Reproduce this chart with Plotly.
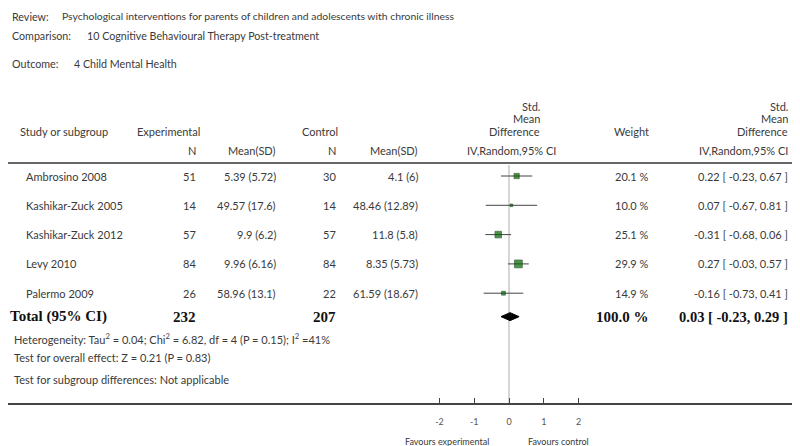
import plotly.graph_objects as go

# ---------------- data ----------------
studies = ["Ambrosino 2008", "Kashikar-Zuck 2005", "Kashikar-Zuck 2012", "Levy 2010", "Palermo 2009"]
exp_n = [51, 14, 57, 84, 26]
exp_mean = [5.39, 49.57, 9.9, 9.96, 58.96]
exp_sd = [5.72, 17.6, 6.2, 6.16, 13.1]
ctrl_n = [30, 14, 57, 84, 22]
ctrl_mean = [4.1, 48.46, 11.8, 8.35, 61.59]
ctrl_sd = [6, 12.89, 5.8, 5.73, 18.67]
smd = [0.22, 0.07, -0.31, 0.27, -0.16]
ci_lo = [-0.23, -0.67, -0.68, -0.03, -0.73]
ci_hi = [0.67, 0.81, 0.06, 0.57, 0.41]
weights = [20.1, 10.0, 25.1, 29.9, 14.9]

total_exp_n = 232
total_ctrl_n = 207
total_smd = 0.03
total_lo = -0.23
total_hi = 0.29
total_weight = 100.0

tick_vals = [-2, -1, 0, 1, 2]
tick_text = ["-2", "-1", "0", "1", "2"]

review = "Psychological interventions for parents of children and adolescents with chronic illness"
comparison = "10 Cognitive Behavioural Therapy Post-treatment"
outcome = "4 Child Mental Health"
heterogeneity = "Heterogeneity: Tau<sup>2</sup> = 0.04; Chi<sup>2</sup> = 6.82, df = 4 (P = 0.15); I<sup>2</sup> =41%"
overall = "Test for overall effect: Z = 0.21 (P = 0.83)"
subgroup = "Test for subgroup differences: Not applicable"

# ---------------- layout helpers ----------------
W, H = 800, 446
OFF = 8                    # page body margin: the figure starts 8px right and down
PLOT_BOTTOM = 403          # screen pixel y of the x-axis line
ROW0, ROWSTEP = 176, 29.3  # screen pixel y of first study row and row spacing
X0_PX, UNIT_PX = 509, 34.75
TOTAL_ROW = 4.8

def pxx(p):
    return (p - OFF) / W

def pxy(p):
    return (PLOT_BOTTOM - p) / (PLOT_BOTTOM - OFF)

SANS = "Lato"
SERIF = "Liberation Serif"
TXT = "#3a3a3a"

fig = go.Figure()

# CI lines
lx, ly = [], []
for i in range(len(studies)):
    lx += [ci_lo[i], ci_hi[i], None]
    ly += [i, i, None]
fig.add_trace(go.Scatter(x=lx, y=ly, mode="lines", line=dict(color="#444444", width=1),
                         hoverinfo="skip", showlegend=False))
# squares
fig.add_trace(go.Scatter(x=smd, y=list(range(len(studies))), mode="markers",
                         marker=dict(symbol="square", size=[w * 0.26 for w in weights],
                                     color="#006600", line=dict(color="#003300", width=0.8)),
                         showlegend=False))
# diamond
dh = 4 / ROWSTEP
fig.add_trace(go.Scatter(x=[total_lo, total_smd, total_hi, total_smd, total_lo],
                         y=[TOTAL_ROW, TOTAL_ROW - dh, TOTAL_ROW, TOTAL_ROW + dh, TOTAL_ROW],
                         mode="lines", fill="toself", fillcolor="#000000",
                         line=dict(color="#000000", width=1), showlegend=False))

ann = []

def A(text, x, y, anchor="left", size=11, font=SANS, color=TXT, yref="paper", bold=False,
      yanchor="middle"):
    if bold:
        text = "<b>" + text + "</b>"
    ann.append(dict(text=text, x=pxx(x), y=(pxy(y) if yref == "paper" else y), xref="paper",
                    yref=yref, xanchor=anchor, yanchor=yanchor, showarrow=False,
                    font=dict(family=font, size=size, color=color)))

# top texts (first line pinned to the top edge of the figure)
A("Review:", 10, OFF, size=10.7, yanchor="top")
A(review, 60, OFF, size=10.4, yanchor="top")
A("Comparison:", 10, 35, size=10.7)
A(comparison, 85, 35, size=10.7)
A("Outcome:", 10, 64, size=10.7)
A(outcome, 72, 64, size=10.7)

# column headers
A("Study or subgroup", 18, 131)
A("Experimental", 135, 131)
A("Control", 300, 131)
A("N", 198, 150, "right")
A("Mean(SD)", 278, 150, "right")
A("N", 338, 150, "right")
A("Mean(SD)", 420, 150, "right")
for xr in (542, 790):
    A("Std.", xr, 106, "right")
    A("Mean", xr, 118, "right")
    A("Difference", xr, 131, "right")
A("IV,Random,95% CI", 511, 150, "center")
A("IV,Random,95% CI", 790, 150, "right")
A("Weight", 651, 131, "right")

# study rows
for i, s in enumerate(studies):
    A(s, 24, i, yref="y")
    A(str(exp_n[i]), 198, i, "right", yref="y")
    A(f"{exp_mean[i]:g} ({exp_sd[i]:g})", 278, i, "right", yref="y")
    A(str(ctrl_n[i]), 338, i, "right", yref="y")
    A(f"{ctrl_mean[i]:g} ({ctrl_sd[i]:g})", 420, i, "right", yref="y")
    A(f"{weights[i]:.1f} %", 651, i, "right", yref="y")
    A(f"{smd[i]:.2f} [ {ci_lo[i]:.2f}, {ci_hi[i]:.2f} ]", 790, i, "right", yref="y")

# total row
TS = 15
A("Total (95% CI)", 8, TOTAL_ROW, yref="y", size=TS, font=SERIF, color="#111111", bold=True)
A(str(total_exp_n), 198, TOTAL_ROW, "right", yref="y", size=TS, font=SERIF, color="#111111", bold=True)
A(str(total_ctrl_n), 338, TOTAL_ROW, "right", yref="y", size=TS, font=SERIF, color="#111111", bold=True)
A(f"{total_weight:.1f} %", 651, TOTAL_ROW, "right", yref="y", size=TS, font=SERIF, color="#111111", bold=True)
A(f"{total_smd:.2f} [ {total_lo:.2f}, {total_hi:.2f} ]", 790, TOTAL_ROW, "right", yref="y",
  size=14.5, font=SERIF, color="#111111", bold=True)

A(heterogeneity, 12, 338, size=11)
A(overall, 12, 357, size=11)
A(subgroup, 12, 379, size=11)

A("Favours experimental", 447, 441, "center", size=9)
A("Favours control", 558, 441, "center", size=9)

shapes = [
    dict(type="line", xref="paper", yref="paper", x0=0, x1=1, y0=pxy(163), y1=pxy(163),
         line=dict(color="#333333", width=1.5)),
    dict(type="line", xref="x", yref="paper", x0=0, x1=0, y0=pxy(165), y1=0,
         line=dict(color="#c8c8c8", width=1.5), layer="below"),
]

xmin = (OFF - X0_PX) / UNIT_PX
xmax = (OFF + W - X0_PX) / UNIT_PX
ytop = (OFF - ROW0) / ROWSTEP
ybot = (PLOT_BOTTOM - ROW0) / ROWSTEP

fig.update_layout(
    width=W, height=H, margin=dict(l=0, r=0, t=0, b=H - (PLOT_BOTTOM - OFF)),
    plot_bgcolor="white", paper_bgcolor="white",
    annotations=ann, shapes=shapes,
    xaxis=dict(range=[xmin, xmax], domain=[0, 1], tickvals=tick_vals, ticktext=tick_text,
               ticks="inside", ticklen=5, tickcolor="#444444", tickwidth=1,
               showline=True, linecolor="#444444", linewidth=2, showgrid=False, zeroline=False,
               tickfont=dict(family=SANS, size=9, color="#555555"), ticklabelstandoff=9,
               fixedrange=True),
    yaxis=dict(range=[ybot, ytop], domain=[0, 1], visible=False, showgrid=False,
               zeroline=False, fixedrange=True),
    showlegend=False,
)

fig.write_html("out.html")
